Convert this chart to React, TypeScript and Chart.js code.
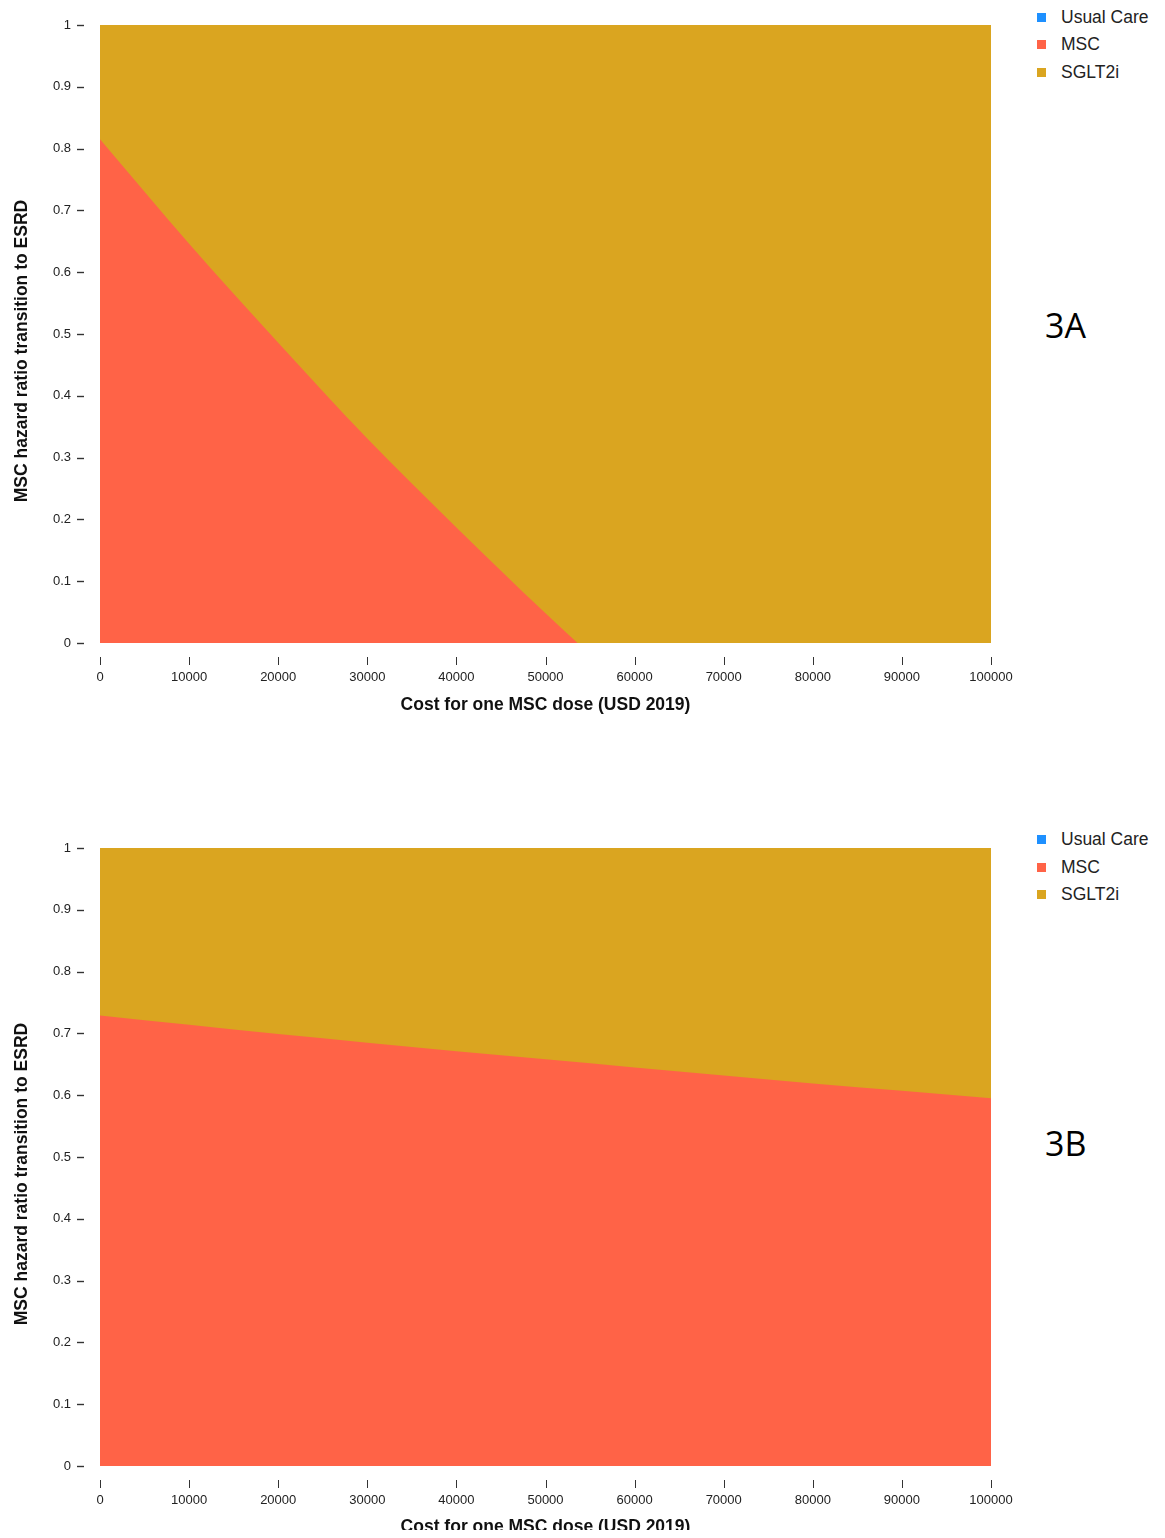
import React, { useEffect, useRef } from 'react';
import { Chart, registerables } from 'chart.js';

Chart.register(...registerables);

// ---- data ----
const seriesNames = ['Usual Care', 'MSC', 'SGLT2i'];
const seriesColors = ['#1E90FF', '#FF6347', '#DAA520'];

const xTickValues = [0, 10000, 20000, 30000, 40000, 50000, 60000, 70000, 80000, 90000, 100000];
const yTickValues = [0, 0.1, 0.2, 0.3, 0.4, 0.5, 0.6, 0.7, 0.8, 0.9, 1];

// Panel 3A: upper edge of the MSC region (cost -> hazard ratio); zero beyond 53600
const costA = [0, 10000, 20000, 30000, 40000, 50000, 53600];
const mscEdgeA = [0.815, 0.646, 0.486, 0.331, 0.187, 0.048, 0];

// Panel 3B: upper edge of the MSC region
const costB = [0, 10000, 20000, 30000, 40000, 50000, 60000, 70000, 80000, 90000, 100000];
const mscEdgeB = [0.729, 0.714, 0.699, 0.685, 0.671, 0.658, 0.645, 0.632, 0.619, 0.607, 0.595];

// SGLT2i region top edge
const costSglt = [0, 100000];
const sgltEdge = [1, 1];

const xTitle = 'Cost for one MSC dose (USD 2019)';
const yTitle = 'MSC hazard ratio transition to ESRD';

const FONT = "'Liberation Sans', Arial, Helvetica, sans-serif";

const tickMarks = {
  id: 'tickMarks',
  afterDraw(chart: any) {
    const { ctx, chartArea, scales } = chart;
    const x = scales.x;
    const y = scales.y;
    ctx.save();
    ctx.strokeStyle = '#333';
    ctx.lineWidth = 1;
    x.ticks.forEach((t: any) => {
      const px = Math.round(x.getPixelForValue(t.value)) + 0.5;
      ctx.beginPath();
      ctx.moveTo(px, chartArea.bottom + 14);
      ctx.lineTo(px, chartArea.bottom + 22);
      ctx.stroke();
    });
    ctx.lineWidth = 1.4;
    y.ticks.forEach((t: any) => {
      const py = Math.round(y.getPixelForValue(t.value)) + 0.5;
      ctx.beginPath();
      ctx.moveTo(chartArea.left - 23, py);
      ctx.lineTo(chartArea.left - 16, py);
      ctx.stroke();
    });
    ctx.restore();
  },
};

function Panel(props: {
  top: number;
  height: number;
  titlePad: number;
  cost: number[];
  edge: number[];
}) {
  const ref = useRef<HTMLCanvasElement | null>(null);
  const { top, height, titlePad, cost, edge } = props;
  const width = 1010;
  useEffect(() => {
    if (!ref.current) return;
    const chart = new Chart(ref.current, {
      type: 'line',
      data: {
        datasets: [
          {
            label: seriesNames[0],
            data: [],
            backgroundColor: seriesColors[0],
            borderColor: seriesColors[0],
            borderWidth: 0,
            pointRadius: 0,
            order: 0,
          },
          {
            label: seriesNames[1],
            data: cost.map((c, i) => ({ x: c, y: edge[i] })),
            backgroundColor: seriesColors[1],
            borderColor: seriesColors[1],
            borderWidth: 0,
            pointRadius: 0,
            fill: 'origin',
            cubicInterpolationMode: 'monotone',
            order: 1,
          },
          {
            label: seriesNames[2],
            data: costSglt.map((c, i) => ({ x: c, y: sgltEdge[i] })),
            backgroundColor: seriesColors[2],
            borderColor: seriesColors[2],
            borderWidth: 0,
            pointRadius: 0,
            fill: 'origin',
            tension: 0,
            order: 2,
          },
        ],
      },
      options: {
        animation: false,
        responsive: false,
        devicePixelRatio: 1,
        layout: { padding: { top: 17, right: 27, left: 0, bottom: 0 } },
        plugins: {
          legend: { display: false },
          tooltip: { enabled: false },
        },
        scales: {
          x: {
            type: 'linear',
            min: 0,
            max: 100000,
            afterBuildTicks: (s: any) => {
              s.ticks = xTickValues.map((v) => ({ value: v }));
            },
            afterFit: (s: any) => {
              s.height = height - 17 - 618;
              s.paddingLeft = 0;
              s.paddingRight = 0;
            },
            grid: { display: false, drawTicks: false },
            border: { display: false },
            ticks: {
              padding: 27,
              color: '#222',
              font: { family: FONT, size: 13 },
              maxRotation: 0,
              autoSkip: false,
              callback: (v: any) => String(v),
            },
            title: {
              display: true,
              text: xTitle,
              color: '#111',
              font: { family: FONT, size: 17.5, weight: 'bold' },
              padding: { top: 0, bottom: titlePad },
            },
          },
          y: {
            type: 'linear',
            min: 0,
            max: 1,
            afterBuildTicks: (s: any) => {
              s.ticks = yTickValues.map((v) => ({ value: v }));
            },
            afterFit: (s: any) => {
              s.width = 92;
              s.paddingTop = 0;
              s.paddingBottom = 0;
            },
            grid: { display: false, drawTicks: false },
            border: { display: false },
            ticks: {
              padding: 29,
              color: '#222',
              font: { family: FONT, size: 13 },
              autoSkip: false,
              callback: (v: any) => String(Math.round(v * 10) / 10),
            },
            title: {
              display: true,
              text: yTitle + '\u00A0'.repeat(7),
              color: '#111',
              font: { family: FONT, size: 17.5, weight: 'bold' },
              padding: { top: 4, bottom: 0 },
            },
          },
        },
      },
      plugins: [tickMarks],
    } as any);
    return () => chart.destroy();
  }, []);
  return (
    <div style={{ position: 'absolute', left: 0, top, width, height }}>
      <canvas ref={ref} width={width} height={height} style={{ display: 'block' }} />
    </div>
  );
}

function Legend(props: { centers: number[] }) {
  return (
    <>
      {seriesNames.map((n, i) => (
        <div
          key={n}
          style={{
            position: 'absolute',
            left: 1029,
            top: props.centers[i] - 10,
            height: 20,
            lineHeight: '20px',
            display: 'flex',
            alignItems: 'center',
            fontFamily: FONT,
            fontSize: 17.5,
            color: '#222',
            whiteSpace: 'nowrap',
          }}
        >
          <span
            style={{
              display: 'inline-block',
              width: 9,
              height: 9,
              background: seriesColors[i],
              marginRight: 15,
            }}
          />
          <span>{n}</span>
        </div>
      ))}
    </>
  );
}

function PanelLabel(props: { text: string; center: number }) {
  return (
    <div
      style={{
        position: 'absolute',
        left: 1037,
        top: props.center - 25,
        height: 50,
        lineHeight: '50px',
        fontFamily: "'Open Sans', 'Noto Sans', sans-serif",
        fontSize: 34,
        color: '#000',
      }}
    >
      {props.text}
    </div>
  );
}

export default function App() {
  return (
    <div style={{ position: 'relative', width: 1149, height: 1522, overflow: 'hidden', background: '#fff' }}>
      <Panel top={0} height={720} titlePad={12} cost={costA} edge={mscEdgeA} />
      <Legend centers={[9, 36, 64]} />
      <PanelLabel text="3A" center={317} />
      <Panel top={823} height={710} titlePad={3} cost={costB} edge={mscEdgeB} />
      <Legend centers={[831, 859, 886]} />
      <PanelLabel text="3B" center={1135} />
    </div>
  );
}
